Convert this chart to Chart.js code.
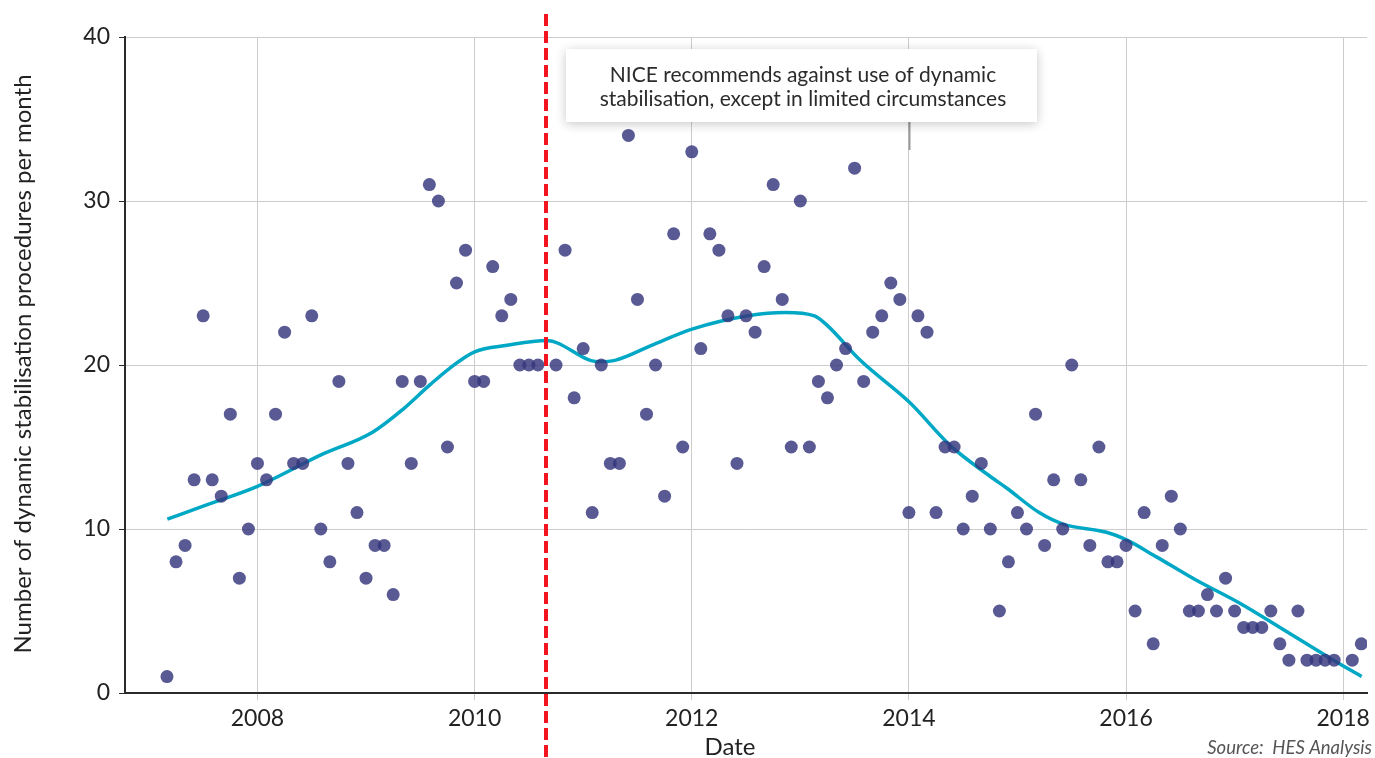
<!DOCTYPE html>
<html>
<head>
<meta charset="utf-8">
<script src="https://cdn.jsdelivr.net/npm/chart.js@4.4.1/dist/chart.umd.min.js"></script>
<style>
  html, body { margin: 0; padding: 0; background: #fff; }
  #wrap { width: 1375px; height: 758px; position: relative; }
</style>
</head>
<body>
<div id="wrap"><canvas id="chart" width="1375" height="758"></canvas></div>
<script>
// monthly counts, Jan..Dec (null = no point shown)
const counts2007 = [null, null, 1, 8, 9, 13, 23, 13, 12, 17, 7, 10];
const counts2008 = [14, 13, 17, 22, 14, 14, 23, 10, 8, 19, 14, 11];
const counts2009 = [7, 9, 9, 6, 19, 14, 19, 31, 30, 15, 25, 27];
const counts2010 = [19, 19, 26, 23, 24, 20, 20, 20, null, 20, 27, 18];
const counts2011 = [21, 11, 20, 14, 14, 34, 24, 17, 20, 12, 28, 15];
const counts2012 = [33, 21, 28, 27, 23, 14, 23, 22, 26, 31, 24, 15];
const counts2013 = [30, 15, 19, 18, 20, 21, 32, 19, 22, 23, 25, 24];
const counts2014 = [11, 23, 22, 11, 15, 15, 10, 12, 14, 10, 5, 8];
const counts2015 = [11, 10, 17, 9, 13, 10, 20, 13, 9, 15, 8, 8];
const counts2016 = [9, 5, 11, 3, 9, 12, 10, 5, 5, 6, 5, 7];
const counts2017 = [5, 4, 4, 4, 5, 3, 2, 5, 2, 2, 2, 2];
const counts2018 = [null, 2, 3];

const yearRows = [
    [2007, counts2007], [2008, counts2008], [2009, counts2009], [2010, counts2010],
    [2011, counts2011], [2012, counts2012], [2013, counts2013], [2014, counts2014],
    [2015, counts2015], [2016, counts2016], [2017, counts2017], [2018, counts2018]
];

// smoothed trend line (decimal year, value)
const trendX = [2007.17, 2007.5, 2008.0, 2008.58, 2009.06, 2009.34, 2009.59, 2009.77, 2010.0, 2010.3,
                2010.66, 2011.14, 2011.3, 2011.63, 2012.01, 2012.52, 2012.86, 2013.13, 2013.25, 2013.55,
                2014.01, 2014.38, 2014.75, 2014.9, 2015.2, 2015.42, 2015.82, 2016.0, 2016.28, 2016.64,
                2017.04, 2017.44, 2017.86, 2018.17];
const trendY = [10.6, 11.4, 12.6, 14.5, 15.9, 17.3, 18.8, 19.8, 20.8, 21.2,
                21.5, 20.2, 20.3, 21.2, 22.2, 23.0, 23.2, 23.0, 22.4, 20.3,
                17.7, 15.1, 13.2, 12.5, 11.0, 10.3, 9.8, 9.35, 8.3, 6.9,
                5.5, 3.9, 2.2, 1.0];

const xTickYears = [2008, 2010, 2012, 2014, 2016, 2018];
const yTicks = [0, 10, 20, 30, 40];
const niceDate = 2010.66;   // NICE guidance marker
const noteLines = ["NICE recommends against use of dynamic", "stabilisation, except in limited circumstances"];
const yTitle = "Number of dynamic stabilisation procedures per month";
const xTitle = "Date";
const sourceText = "Source:  HES Analysis";

const monthlyPoints = [];
yearRows.forEach(([yr, vals]) => {
    vals.forEach((v, i) => {
        if (v !== null) monthlyPoints.push({ x: yr + i / 12, y: v });
    });
});
const trendPoints = trendX.map((x, i) => ({ x: x, y: trendY[i] }));

const FONT = "Lato, 'Noto Sans', sans-serif";

// texts, marker line and note box
const extras = {
    id: "extras",
    afterDatasetsDraw(chart) {
        const ctx = chart.ctx;
        const xs = chart.scales.x;
        ctx.save();
        // red dashed marker
        const rx = Math.round(xs.getPixelForValue(niceDate));
        ctx.strokeStyle = "#f2151f";
        ctx.lineWidth = 4;
        ctx.setLineDash([12, 5]);
        ctx.beginPath();
        ctx.moveTo(rx, 14);
        ctx.lineTo(rx, 758);
        ctx.stroke();
        ctx.setLineDash([]);

        // little pointer under the note
        const px = Math.round(xs.getPixelForValue(2014)) + 0.5;
        ctx.strokeStyle = "#9a9a9a";
        ctx.lineWidth = 2;
        ctx.beginPath();
        ctx.moveTo(px, 120);
        ctx.lineTo(px, 150);
        ctx.stroke();

        // note box
        ctx.shadowColor = "rgba(0,0,0,0.22)";
        ctx.shadowBlur = 10;
        ctx.shadowOffsetY = 2;
        ctx.fillStyle = "#fff";
        ctx.fillRect(566, 49, 471, 73);
        ctx.shadowColor = "transparent";
        ctx.fillStyle = "#2b2b2b";
        ctx.font = "21px " + FONT;
        ctx.textAlign = "center";
        ctx.textBaseline = "middle";
        ctx.fillText(noteLines[0], 803, 75);
        ctx.fillText(noteLines[1], 803, 99);
        ctx.restore();
    },
    afterDraw(chart) {
        const ctx = chart.ctx;
        ctx.save();
        ctx.fillStyle = "#222";
        ctx.font = "24px " + FONT;
        ctx.textAlign = "center";
        ctx.textBaseline = "middle";
        ctx.translate(23, 364);
        ctx.rotate(-Math.PI / 2);
        ctx.fillText(yTitle, 0, 0);
        ctx.restore();

        ctx.save();
        ctx.fillStyle = "#222";
        ctx.font = "24px " + FONT;
        ctx.textAlign = "center";
        ctx.textBaseline = "middle";
        ctx.fillText(xTitle, 730, 747);
        ctx.fillStyle = "#555";
        ctx.font = "italic 18.5px " + FONT;
        ctx.textAlign = "right";
        ctx.fillText(sourceText, 1372, 748);
        ctx.restore();
    }
};

const ctx = document.getElementById("chart").getContext("2d");
new Chart(ctx, {
    type: "scatter",
    data: {
        datasets: [
            {
                type: "line",
                data: trendPoints,
                borderColor: "#00a8c5",
                borderWidth: 3.5,
                pointRadius: 0,
                cubicInterpolationMode: "monotone",
                fill: false,
                order: 2
            },
            {
                type: "scatter",
                data: monthlyPoints,
                backgroundColor: "rgba(52, 54, 124, 0.82)",
                borderWidth: 0,
                pointRadius: 6.5,
                order: 1
            }
        ]
    },
    options: {
        responsive: false,
        animation: false,
        layout: { padding: { left: 0, right: 0, top: 37, bottom: 0 } },
        plugins: { legend: { display: false }, tooltip: { enabled: false } },
        scales: {
            x: {
                type: "linear",
                min: 2006.78,
                max: 2018.22,
                afterBuildTicks: s => { s.ticks = xTickYears.map(v => ({ value: v })); },
                afterFit: s => { s.height = 65; },
                grid: { color: "#cccccc", lineWidth: 1, tickLength: 7, tickColor: "#cccccc" },
                border: { color: "#2a2a2a", width: 2 },
                ticks: {
                    font: { family: FONT, size: 23 },
                    color: "#222",
                    padding: 5,
                    maxRotation: 0,
                    callback: v => String(v)
                }
            },
            y: {
                min: 0,
                max: 40,
                afterBuildTicks: s => { s.ticks = yTicks.map(v => ({ value: v })); },
                afterFit: s => { s.width = 125; },
                grid: { color: "#cccccc", lineWidth: 1, tickLength: 6, tickColor: "#2a2a2a" },
                border: { color: "#2a2a2a", width: 2 },
                ticks: {
                    font: { family: FONT, size: 23 },
                    color: "#222",
                    padding: 9,
                    callback: v => String(v)
                }
            }
        }
    },
    plugins: [extras]
});
</script>
</body>
</html>
